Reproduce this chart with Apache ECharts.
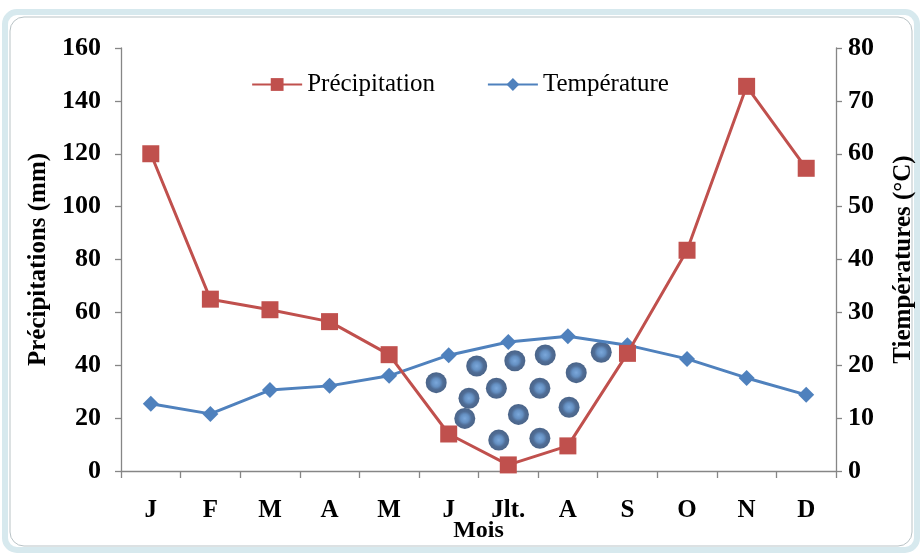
<!DOCTYPE html>
<html>
<head>
<meta charset="utf-8">
<script src="https://cdn.jsdelivr.net/npm/echarts@6/dist/echarts.min.js"></script>
<style>
html,body{margin:0;padding:0;background:#fff;}
#c{width:920px;height:554px;}
</style>
</head>
<body>
<div id="c"></div>
<script>
const months = ['J','F','M','A','M','J','Jlt.','A','S','O','N','D'];
const precipitation = [120, 65, 61, 56.5, 44, 14, 2.3, 9.5, 44.5, 83.5, 145.5, 114.5];
const temperature = [12.7, 10.8, 15.3, 16.1, 18, 21.9, 24.4, 25.5, 23.8, 21.2, 17.6, 14.4];
const leftTicks = {min: 0, max: 160, interval: 20};
const rightTicks = {min: 0, max: 80, interval: 10};
// decorative dots in the dry period: [month index position, precipitation mm]
const dryDotsX = [4.79, 5.47, 6.11, 6.62, 7.56, 5.34, 5.80, 6.53, 7.14, 5.27, 6.17, 7.02, 5.84, 6.53];
const dryDotsY = [33.4, 39.7, 41.7, 43.9, 44.9, 27.5, 31.3, 31.3, 37.2, 19.9, 21.4, 24.1, 11.7, 12.4];

const font = 'Liberation Serif';
const chart = echarts.init(document.getElementById('c'));
const lab = (size) => ({fontFamily: font, fontWeight: 'bold', fontSize: size, color: '#000'});
const axisLine = {show: true, onZero: false, lineStyle: {color: '#868686', width: 1.3}};
const tick = {show: true, length: 6, lineStyle: {color: '#868686', width: 1.3}};

chart.setOption({
  animation: false,
  backgroundColor: '#fff',
  graphic: [
    {type: 'rect', shape: {x: 5, y: 12, width: 912, height: 538, r: 12}, style: {fill: 'none', stroke: '#d7e9ee', lineWidth: 6}, silent: true, z: -10},
    {type: 'rect', shape: {x: 10, y: 17, width: 902, height: 529, r: 14}, style: {fill: 'none', stroke: '#b9c3c6', lineWidth: 1}, silent: true, z: -10}
  ],
  grid: {left: 121, right: 84, top: 48, bottom: 83, outerBoundsMode: 'none', containLabel: false},
  legend: {
    top: 67, left: 'center', itemGap: 52, itemWidth: 50, itemHeight: 16,
    textStyle: {fontFamily: font, fontSize: 25, color: '#000'},
    data: ['Précipitation', 'Température']
  },
  xAxis: [
    {
      type: 'category', data: months, boundaryGap: true,
      axisLine: axisLine,
      axisTick: Object.assign({}, tick, {length: 7}),
      axisLabel: Object.assign({margin: 27}, lab(25)),
      name: 'Mois', nameLocation: 'middle', nameGap: 48, nameMoveOverlap: false,
      nameTextStyle: lab(24)
    },
    {type: 'value', min: -0.5, max: 11.5, show: false}
  ],
  yAxis: [
    {
      type: 'value', min: leftTicks.min, max: leftTicks.max, interval: leftTicks.interval,
      axisLine: axisLine, splitLine: {show: false},
      axisTick: tick,
      axisLabel: Object.assign({margin: 20}, lab(26)),
      name: 'Précipitations (mm)', nameLocation: 'middle', nameGap: 62, nameRotate: 90,
      nameTextStyle: lab(25)
    },
    {
      type: 'value', min: rightTicks.min, max: rightTicks.max, interval: rightTicks.interval,
      position: 'right',
      axisLine: axisLine, splitLine: {show: false},
      axisTick: tick,
      axisLabel: Object.assign({margin: 12}, lab(26)),
      name: 'Tiempératures (°C)', nameLocation: 'middle', nameGap: 55, nameRotate: 90,
      nameTextStyle: lab(25)
    }
  ],
  series: [
    {
      name: 'Précipitation', type: 'line', data: precipitation, yAxisIndex: 0,
      symbol: 'rect', symbolSize: 17,
      lineStyle: {color: '#c0504d', width: 3}, itemStyle: {color: '#c0504d'}, z: 4
    },
    {
      name: 'Température', type: 'line', data: temperature, yAxisIndex: 1,
      symbol: 'diamond', symbolSize: 16,
      lineStyle: {color: '#4f81bd', width: 3}, itemStyle: {color: '#4f81bd'}, z: 3
    },
    {
      name: 'dots', type: 'scatter', xAxisIndex: 1, yAxisIndex: 0,
      data: dryDotsX.map((x, i) => [x, dryDotsY[i]]),
      symbol: 'circle', symbolSize: 21,
      itemStyle: {
        color: {type: 'radial', x: 0.5, y: 0.5, r: 0.5, colorStops: [
          {offset: 0, color: '#5a92d2'}, {offset: 0.4, color: '#3e74b3'}, {offset: 0.65, color: '#24497c'}, {offset: 1, color: '#1d3d6a'}
        ]}
      },
      z: 2
    }
  ]
});
</script>
</body>
</html>
